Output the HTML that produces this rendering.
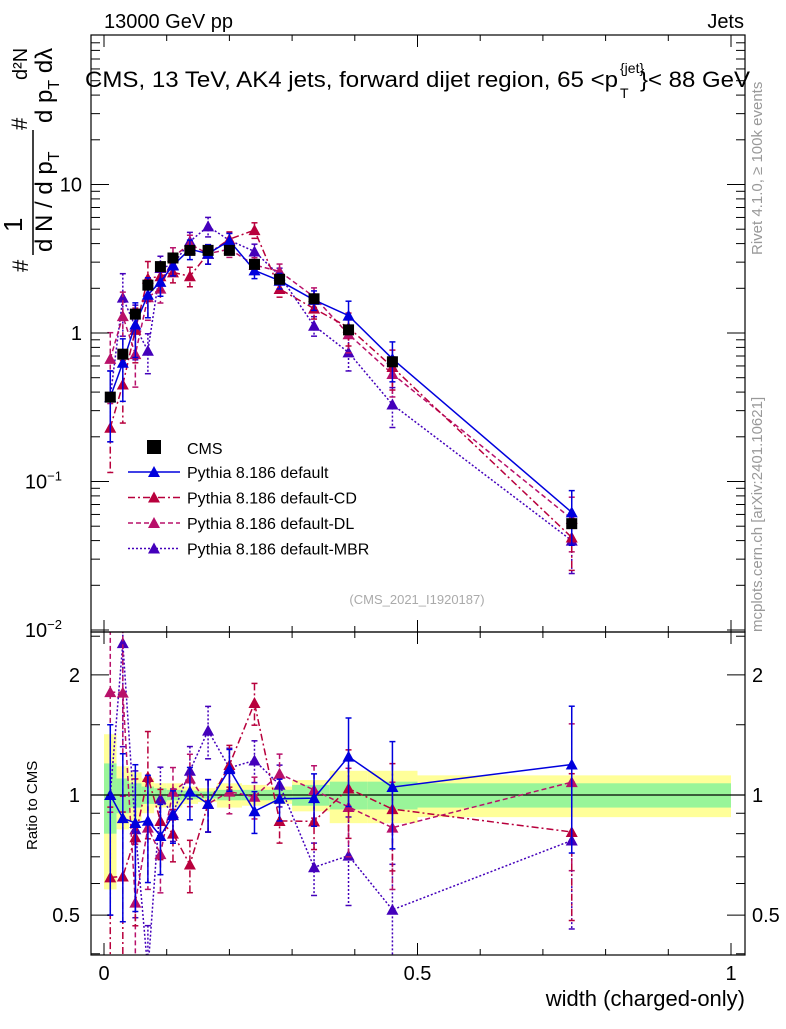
<!DOCTYPE html>
<html><head><meta charset="utf-8"><style>
body{margin:0;background:#fff}
svg text{font-family:"Liberation Sans",sans-serif}
</style></head><body>
<svg id="c" width="786" height="1024" xmlns="http://www.w3.org/2000/svg">
<defs>
<clipPath id="cpTop"><rect x="91" y="35" width="654" height="597"/></clipPath>
<clipPath id="cpBot"><rect x="91" y="632" width="654" height="323"/></clipPath>
</defs>
<g id="bands" clip-path="url(#cpBot)"></g>
<g id="top" clip-path="url(#cpTop)"></g>
<g id="bot" clip-path="url(#cpBot)"></g>
<g id="axes"></g>
<text x="104" y="28" font-size="20">13000 GeV pp</text>
<text x="744" y="28" font-size="20" text-anchor="end">Jets</text>
<g>
<text x="85" y="87" font-size="22" textLength="533" lengthAdjust="spacingAndGlyphs">CMS, 13 TeV, AK4 jets, forward dijet region, 65 &lt;p</text>
<text x="620" y="73" font-size="14">{jet}</text>
<text x="620" y="98" font-size="14">T</text>
<text x="640" y="87" font-size="22" textLength="110" lengthAdjust="spacingAndGlyphs">}&lt; 88 GeV</text>
</g>
<g font-size="24">
<text transform="translate(28,272) rotate(-90)" font-size="22">#</text>
<text transform="translate(52,252) rotate(-90)">d N / d p<tspan font-size="16" dy="7">T</tspan></text>
<text transform="translate(22,232) rotate(-90)" font-size="26">1</text>
<line x1="33" y1="255" x2="33" y2="130" stroke="#000" stroke-width="1.5"/>
<text transform="translate(52,123) rotate(-90)">d p<tspan font-size="16" dy="7">T</tspan><tspan dy="-7">  d</tspan>λ</text>
<text transform="translate(27,130) rotate(-90)" font-size="22">#</text>
<text transform="translate(27,80) rotate(-90)" font-size="20">d²N</text>
</g>
<text transform="translate(37,850) rotate(-90)" font-size="15">Ratio to CMS</text>
<text transform="translate(762,255) rotate(-90)" font-size="15" fill="#999">Rivet 4.1.0, ≥ 100k events</text>
<text transform="translate(762,632) rotate(-90)" font-size="15" fill="#999">mcplots.cern.ch [arXiv:2401.10621]</text>
<text x="417" y="604" font-size="13" fill="#aaa" text-anchor="middle">(CMS_2021_I1920187)</text>
<text x="745" y="1006" font-size="22" text-anchor="end">width (charged-only)</text>
<g id="legend"></g>
</svg>
<script>
const xVals=[0.01,0.03,0.05,0.07,0.09,0.11,0.137,0.166,0.2,0.24,0.28,0.335,0.39,0.46,0.746];
const binEdges=[0,0.02,0.04,0.06,0.08,0.1,0.125,0.15,0.18,0.22,0.26,0.3,0.36,0.42,0.5,1.0];
const cmsVals=[0.37,0.72,1.34,2.1,2.8,3.2,3.6,3.6,3.6,2.9,2.3,1.7,1.05,0.64,0.052];
const statErr=[0.2,0.1,0.07,0.05,0.04,0.03,0.025,0.02,0.03,0.03,0.03,0.06,0.08,0.08,0.07];
const totErr=[0.42,0.18,0.14,0.1,0.07,0.07,0.05,0.04,0.07,0.06,0.05,0.09,0.15,0.15,0.12];
const defVals=[0.37,0.63,1.14,1.81,2.21,2.85,3.67,3.42,4.18,2.64,2.25,1.67,1.31,0.67,0.062];
const cdVals=[0.23,0.45,1.05,2.33,2.41,2.56,2.41,3.42,4.28,4.93,1.98,1.46,1.09,0.59,0.042];
const dlVals=[0.67,1.30,0.72,1.74,1.99,3.26,3.96,3.42,3.67,2.87,2.60,1.75,0.98,0.53,0.056];
const mbrVals=[0.37,1.73,1.10,0.76,2.74,2.88,4.14,5.22,4.21,3.54,2.44,1.12,0.74,0.33,0.040];
const mcErr=[0.5,0.45,0.4,0.3,0.2,0.15,0.15,0.15,0.12,0.12,0.12,0.15,0.25,0.3,0.4];
const xTicks=[0,0.5,1];
const xTickLabels=["0","0.5","1"];
const ratioTicks=[2,1,0.5];
const ratioTickLabels=["2","1","0.5"];

const NS="http://www.w3.org/2000/svg";
const xs=v=>104+627*v;
const yT=v=>333-148.5*Math.log10(v);
const yR=r=>795-399*Math.log10(r);
function el(tag,attrs,parent){const e=document.createElementNS(NS,tag);for(const k in attrs)e.setAttribute(k,attrs[k]);parent.appendChild(e);return e;}
const gB=document.getElementById('bands'),gT=document.getElementById('top'),gR=document.getElementById('bot'),gA=document.getElementById('axes'),gL=document.getElementById('legend');

for(let i=0;i<xVals.length;i++){
  const x0=xs(binEdges[i]),x1=xs(binEdges[i+1]);
  const y=el('rect',{x:x0,y:yR(1+totErr[i]),width:x1-x0,height:yR(1-totErr[i])-yR(1+totErr[i]),fill:'#ffff99'},gB);
  
  
  const g=el('rect',{x:x0,y:yR(1+statErr[i]),width:x1-x0,height:yR(1-statErr[i])-yR(1+statErr[i]),fill:'#99f599'},gB);
  
  
}
const ref=el('line',{x1:91,x2:745,y1:yR(1),y2:yR(1),stroke:'#000','stroke-width':1.2},gB);



function tri(g,x,y,c){return el('polygon',{points:`${x},${y-6} ${x-6},${y+5} ${x+6},${y+5}`,fill:c},g);}
const series=[
 {name:'default',vals:defVals,color:'#0000dd',dash:'',label:'Pythia 8.186 default'},
 {name:'default-cd',vals:cdVals,color:'#b8003c',dash:'7,3,2,3',label:'Pythia 8.186 default-CD'},
 {name:'default-dl',vals:dlVals,color:'#b8106a',dash:'5,3',label:'Pythia 8.186 default-DL'},
 {name:'default-mbr',vals:mbrVals,color:'#4400bb',dash:'2,2',label:'Pythia 8.186 default-MBR'}
];
for(const s of series.slice().reverse()){
  for(const [g,fy,ratio] of [[gT,yT,false],[gR,yR,true]]){
    const grp=el('g',{},g);
    
    
    const pts=xVals.map((x,i)=>{const v=ratio?s.vals[i]/cmsVals[i]:s.vals[i];return [xs(x),fy(v),v];});
    el('polyline',{points:pts.map(p=>p[0]+','+p[1]).join(' '),fill:'none',stroke:s.color,'stroke-width':1.5,'stroke-dasharray':s.dash},grp);
    pts.forEach((p,i)=>{
      const hi=fy(p[2]*(1+mcErr[i])),lo=fy(p[2]*Math.max(0.02,1-mcErr[i]));
      el('line',{x1:p[0],x2:p[0],y1:hi,y2:lo,stroke:s.color,'stroke-width':1.5,'stroke-dasharray':s.dash},grp);
      el('line',{x1:p[0]-3,x2:p[0]+3,y1:hi,y2:hi,stroke:s.color,'stroke-width':1.5},grp);
      el('line',{x1:p[0]-3,x2:p[0]+3,y1:lo,y2:lo,stroke:s.color,'stroke-width':1.5},grp);
      const t=tri(grp,p[0],p[1],s.color);
      
      
    });
  }
}
xVals.forEach((x,i)=>{
  const r=el('rect',{x:xs(x)-5.5,y:yT(cmsVals[i])-5.5,width:11,height:11,fill:'#000'},gT);
  
  
});

for(const [y0,y1] of [[35,632],[632,955]]){
  const f=el('rect',{x:91,y:y0,width:654,height:y1-y0,fill:'none',stroke:'#000','stroke-width':1.2},gA);
  
  
}
for(let k=0;k<=10;k++){
  const v=k/10,x=xs(v),len=(k%5===0)?12:6;
  for(const [yb,yt] of [[632,35],[955,632]]){
    el('line',{x1:x,x2:x,y1:yb,y2:yb-len,stroke:'#000'},gA);
    el('line',{x1:x,x2:x,y1:yt,y2:yt+len,stroke:'#000'},gA);
  }
}
xTicks.forEach((v,i)=>{
  const t=el('text',{x:xs(v),y:980,'font-size':20,'text-anchor':'middle'},gA);t.textContent=xTickLabels[i];
  
  
});
for(let d=-2;d<=1;d++){
  for(let m=1;m<10;m++){
    const v=m*Math.pow(10,d),y=yT(v);
    if(y<35||y>632)continue;
    const len=m===1?18:9;
    el('line',{x1:91,x2:91+len,y1:y,y2:y,stroke:'#000'},gA);
    el('line',{x1:745,x2:745-len,y1:y,y2:y,stroke:'#000'},gA);
  }
}
const topLbl=[[10,'10',''],[1,'1',''],[0.1,'10','−1'],[0.01,'10','−2']];
topLbl.forEach(l=>{
  const t=el('text',{x:l[2]?62:82,y:yT(l[0])+7,'font-size':20,'text-anchor':'end'},gA);
  t.textContent=l[1];
  if(l[2]){const s=el('tspan',{'font-size':13,dy:-8},t);s.textContent=l[2];}
  
  
});
[0.4,0.5,0.6,0.7,0.8,0.9,1,1.5,2,2.5].forEach(v=>{
  const y=yR(v);if(y<632||y>955)return;
  const len=(v===0.5||v===1||v===2)?18:9;
  el('line',{x1:91,x2:91+len,y1:y,y2:y,stroke:'#000'},gA);
  el('line',{x1:745,x2:745-len,y1:y,y2:y,stroke:'#000'},gA);
});
ratioTicks.forEach((v,i)=>{
  for(const [x,a] of [[80,'end'],[752,'start']]){
    const t=el('text',{x:x,y:yR(v)+7,'font-size':20,'text-anchor':a},gA);t.textContent=ratioTickLabels[i];
    
    
  }
});
const lg=el('rect',{x:147,y:440,width:14,height:14,fill:'#000'},gL);


const lt=el('text',{x:187,y:454,'font-size':16},gL);lt.textContent='CMS';


series.forEach((s,i)=>{
  const y=472+i*25.5;
  el('line',{x1:128,x2:180,y1:y,y2:y,stroke:s.color,'stroke-width':1.5,'stroke-dasharray':s.dash},gL);
  tri(gL,154,y,s.color);
  const t=el('text',{x:187,y:y+6,'font-size':16},gL);t.textContent=s.label;
  
  
});
</script>
</body></html>
